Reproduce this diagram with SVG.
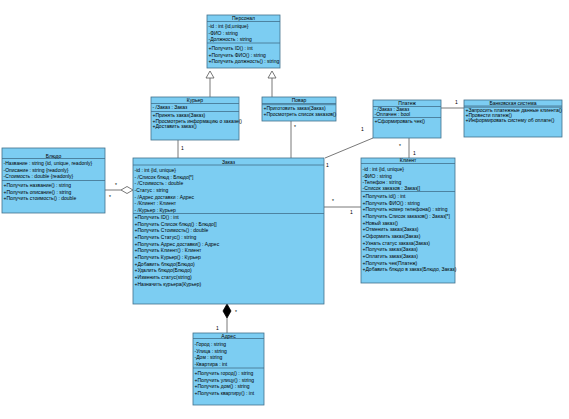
<svg xmlns="http://www.w3.org/2000/svg" width="569" height="419" viewBox="0 0 569 419">
<style>
.box{fill:#7ccdf2;stroke:#41708c;stroke-width:0.8}
.sep{stroke:#41708c;stroke-width:0.8}
.t{font-family:"Liberation Sans",Arial,sans-serif;font-size:5px;fill:#000}
.h{text-anchor:middle}
.c{stroke:#555;stroke-width:0.8;fill:none}
.m{font-family:"Liberation Sans",Arial,sans-serif;font-size:5px;fill:#000}
</style>
<rect width="569" height="419" fill="#fff"/>
<g id="connectors">
<line class="c" x1="210" y1="97" x2="210" y2="78"/>
<polygon points="210,71 206,78 214,78" fill="#fff" stroke="#555" stroke-width="0.8"/>
<line class="c" x1="272" y1="97" x2="272" y2="78"/>
<polygon points="272,71 268,78 276,78" fill="#fff" stroke="#555" stroke-width="0.8"/>
<line class="c" x1="178" y1="140" x2="178" y2="158"/>
<text class="m" x="181" y="150">1</text>
<line class="c" x1="291" y1="121" x2="291" y2="158"/>
<text class="m" x="294" y="129">*</text>
<line class="c" x1="373" y1="138" x2="325" y2="158"/>
<text class="m" x="361" y="131">1</text>
<text class="m" x="326" y="167">1</text>
<line class="c" x1="409" y1="138" x2="409" y2="158"/>
<text class="m" x="399" y="148">*</text>
<text class="m" x="413" y="155">1</text>
<line class="c" x1="441" y1="108" x2="464" y2="108"/>
<text class="m" x="455" y="104">1</text>
<line class="c" x1="324" y1="207" x2="361" y2="207"/>
<text class="m" x="332" y="203">*</text>
<text class="m" x="350" y="214">1</text>
<line class="c" x1="105" y1="190" x2="121" y2="190"/>
<polygon points="121,190 127,186.5 133,190 127,193.5" fill="#fff" stroke="#555" stroke-width="0.8"/>
<text class="m" x="115" y="187">*</text>
<text class="m" x="109" y="199">*</text>
<polygon points="227,304 231,311 227,318 223,311" fill="#000" stroke="#000" stroke-width="0.8"/>
<line class="c" x1="227" y1="318" x2="227" y2="333"/>
<text class="m" x="235" y="314">*</text>
<text class="m" x="216" y="330">1</text>
</g>
<g id="personal">
<rect class="box" x="207" y="15" width="73" height="53"/>
<line class="sep" x1="207" y1="21.5" x2="280" y2="21.5"/>
<line class="sep" x1="207" y1="43" x2="280" y2="43"/>
<text class="t h" x="243.5" y="20">Персонал</text>
<text class="t" x="208.5" y="27.8">-id : int {id,unique}</text>
<text class="t" x="208.5" y="34.6">-ФИО : string</text>
<text class="t" x="208.5" y="41">-Должность : string</text>
<text class="t" x="208.5" y="49.8">+Получить ID() : int</text>
<text class="t" x="208.5" y="56.6">+Получить ФИО() : string</text>
<text class="t" x="208.5" y="63.4">+Получить должность() : string</text>
</g>
<g id="kurer">
<rect class="box" x="151" y="97" width="88" height="43"/>
<line class="sep" x1="151" y1="103.5" x2="239" y2="103.5"/>
<line class="sep" x1="151" y1="111.5" x2="239" y2="111.5"/>
<text class="t h" x="195" y="102">Курьер</text>
<text class="t" x="152.5" y="109">- /Заказ : Заказ</text>
<text class="t" x="152.5" y="117">+Принять заказ(Заказ)</text>
<text class="t" x="152.5" y="122.7">+Просмотреть информацию о заказе()</text>
<text class="t" x="152.5" y="128.4">+Доставить заказ()</text>
</g>
<g id="povar">
<rect class="box" x="262" y="97" width="74" height="24"/>
<line class="sep" x1="262" y1="103.5" x2="336" y2="103.5"/>
<line class="sep" x1="262" y1="104.7" x2="336" y2="104.7"/>
<text class="t h" x="299" y="102">Повар</text>
<text class="t" x="263.5" y="109.5">+Приготовить заказ(Заказ)</text>
<text class="t" x="263.5" y="115.5">+Просмотреть список заказов()</text>
</g>
<g id="platezh">
<rect class="box" x="373" y="100" width="68" height="38"/>
<line class="sep" x1="373" y1="106.5" x2="441" y2="106.5"/>
<line class="sep" x1="373" y1="117.5" x2="441" y2="117.5"/>
<text class="t h" x="407" y="105">Платеж</text>
<text class="t" x="374.5" y="111.3">- /Заказ : Заказ</text>
<text class="t" x="374.5" y="116.3">-Оплачен : bool</text>
<text class="t" x="374.5" y="122.5">+Сформировать чек()</text>
</g>
<g id="bank">
<rect class="box" x="464" y="100" width="98" height="37"/>
<line class="sep" x1="464" y1="106" x2="562" y2="106"/>
<line class="sep" x1="464" y1="107.2" x2="562" y2="107.2"/>
<text class="t h" x="513" y="104.7">Банковская система</text>
<text class="t" x="465.5" y="112">+Запросить платежные данные клиента()</text>
<text class="t" x="465.5" y="116.8">+Провести платеж()</text>
<text class="t" x="465.5" y="121.6">+Информировать систему об оплате()</text>
</g>
<g id="bludo">
<rect class="box" x="2" y="148" width="103" height="65"/>
<line class="sep" x1="2" y1="158.5" x2="105" y2="158.5"/>
<line class="sep" x1="2" y1="180.5" x2="105" y2="180.5"/>
<text class="t h" x="53.5" y="157.5">Блюдо</text>
<text class="t" x="3.5" y="164.8">-Название : string {id, unique, readonly}</text>
<text class="t" x="3.5" y="171.5">-Описание : string {readonly}</text>
<text class="t" x="3.5" y="178.2">-Стоимость : double {readonly}</text>
<text class="t" x="3.5" y="186.8">+Получить название() : string</text>
<text class="t" x="3.5" y="193.5">+Получить описание() : string</text>
<text class="t" x="3.5" y="200.2">+Получить стоимость() : double</text>
</g>
<g id="zakaz">
<rect class="box" x="133" y="158" width="191" height="146"/>
<line class="sep" x1="133" y1="165" x2="324" y2="165"/>
<line class="sep" x1="133" y1="213.5" x2="324" y2="213.5"/>
<text class="t h" x="228.5" y="163.5">Заказ</text>
<text class="t" x="134.5" y="171.8">-id : int {id, unique}</text>
<text class="t" x="134.5" y="178.5">- /Список блюд : Блюдо[*]</text>
<text class="t" x="134.5" y="185.1">- /Стоимость : double</text>
<text class="t" x="134.5" y="191.8">-Статус : string</text>
<text class="t" x="134.5" y="198.5">- /Адрес доставки : Адрес</text>
<text class="t" x="134.5" y="205.1">- /Клиент : Клиент</text>
<text class="t" x="134.5" y="211.8">- /Курьер : Курьер</text>
<text class="t" x="134.5" y="218.8">+Получить ID() : int</text>
<text class="t" x="134.5" y="225.5">+Получить Список блюд() : Блюдо[]</text>
<text class="t" x="134.5" y="232.1">+Получить Стоимость() : double</text>
<text class="t" x="134.5" y="238.8">+Получить Статус() : string</text>
<text class="t" x="134.5" y="245.5">+Получить Адрес доставки() : Адрес</text>
<text class="t" x="134.5" y="252.1">+Получить Клиент() : Клиент</text>
<text class="t" x="134.5" y="258.8">+Получить Курьер() : Курьер</text>
<text class="t" x="134.5" y="265.5">+Добавить блюдо(Блюдо)</text>
<text class="t" x="134.5" y="272.1">+Удалить блюдо(Блюдо)</text>
<text class="t" x="134.5" y="278.8">+Изменить статус(string)</text>
<text class="t" x="134.5" y="285.5">+Назначить курьера(Курьер)</text>
</g>
<g id="klient">
<rect class="box" x="361" y="158" width="94" height="125"/>
<line class="sep" x1="361" y1="163.5" x2="455" y2="163.5"/>
<line class="sep" x1="361" y1="191.5" x2="455" y2="191.5"/>
<text class="t h" x="408" y="162.3">Клиент</text>
<text class="t" x="362.5" y="170.8">-id : int {id, unique}</text>
<text class="t" x="362.5" y="177.5">-ФИО : string</text>
<text class="t" x="362.5" y="184.1">-Телефон : string</text>
<text class="t" x="362.5" y="190.3">-Список заказов : Заказ[]</text>
<text class="t" x="362.5" y="198.1">+Получить id() : int</text>
<text class="t" x="362.5" y="204.8">+Получить ФИО() : string</text>
<text class="t" x="362.5" y="211.4">+Получить номер телефона() : string</text>
<text class="t" x="362.5" y="218.1">+Получить Список заказов() : Заказ[*]</text>
<text class="t" x="362.5" y="224.7">+Новый заказ()</text>
<text class="t" x="362.5" y="231.4">+Отменить заказ(Заказ)</text>
<text class="t" x="362.5" y="238">+Оформить заказ(Заказ)</text>
<text class="t" x="362.5" y="244.7">+Узнать статус заказа(Заказ)</text>
<text class="t" x="362.5" y="251.3">+Получить заказ(Заказ)</text>
<text class="t" x="362.5" y="258">+Оплатить заказ(Заказ)</text>
<text class="t" x="362.5" y="264.6">+Получить чек(Платеж)</text>
<text class="t" x="362.5" y="271.3">+Добавить блюдо в заказ(Блюдо, Заказ)</text>
</g>
<g id="adres">
<rect class="box" x="193" y="333" width="71" height="72"/>
<line class="sep" x1="193" y1="338.5" x2="264" y2="338.5"/>
<line class="sep" x1="193" y1="368" x2="264" y2="368"/>
<text class="t h" x="228.5" y="337.5">Адрес</text>
<text class="t" x="194.5" y="345.8">-Город : string</text>
<text class="t" x="194.5" y="352.5">-Улица : string</text>
<text class="t" x="194.5" y="359.1">-Дом : string</text>
<text class="t" x="194.5" y="365.8">-Квартира : int</text>
<text class="t" x="194.5" y="374.8">+Получить город() : string</text>
<text class="t" x="194.5" y="381.5">+Получить улицу() : string</text>
<text class="t" x="194.5" y="388.1">+Получить дом() : string</text>
<text class="t" x="194.5" y="394.8">+Получить квартиру() : int</text>
</g>
</svg>
